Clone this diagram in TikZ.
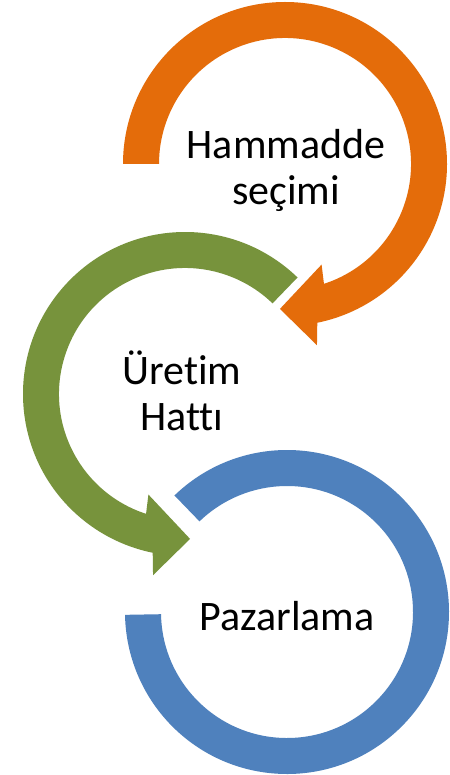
\documentclass[tikz,border=0pt]{standalone}
\usepackage{fontspec}
\setmainfont[Ligatures={NoCommon,NoContextual}]{Carlito}
\definecolor{cOrange}{HTML}{E46C0A}
\definecolor{cGreen}{HTML}{77933C}
\definecolor{cBlue}{HTML}{4F81BD}
\begin{document}
\begin{tikzpicture}[x=1pt,y=1pt,
  lbl/.style={inner sep=0pt, align=center, font=\fontsize{42}{46}\selectfont, text=black}]
\useasboundingbox[fill=white] (0,0) rectangle (449,-775);
% orange ring with head (clockwise)
\begin{scope}[shift={(285,-164)}]
  \fill[cOrange] (180:162pt) arc[start angle=180, end angle=-78.5, radius=162pt]
    -- (-80:184pt) -- (-92:145pt) -- (-70:107pt) -- (-72:126pt)
    arc[start angle=-72, end angle=180, radius=126pt] -- cycle;
  \node[lbl, anchor=base] (hammadde) at (1,-41) {Hammadde\\seçimi};
\end{scope}
% green ring with head (counter-clockwise)
\begin{scope}[shift={(185,-394)}]
  \fill[cGreen] (46:162pt) arc[start angle=46, end angle=258.5, radius=162pt]
    -- (260:184pt) -- (272:145pt) -- (250:107pt) -- (252:126pt)
    arc[start angle=252, end angle=46, radius=126pt] -- cycle;
  \node[lbl, anchor=base] (uretim) at (-3,-36) {Üretim\\Hattı};
\end{scope}
% blue ring
\begin{scope}[shift={(287,-612)}]
  \fill[cBlue] (134:162pt) arc[start angle=134, end angle=-179, radius=162pt]
    -- (-179:126pt) arc[start angle=-179, end angle=134, radius=126pt] -- cycle;
  \node[lbl, anchor=base] (pazarlama) at (0,-18) {Pazarlama};
\end{scope}
\end{tikzpicture}
\end{document}
